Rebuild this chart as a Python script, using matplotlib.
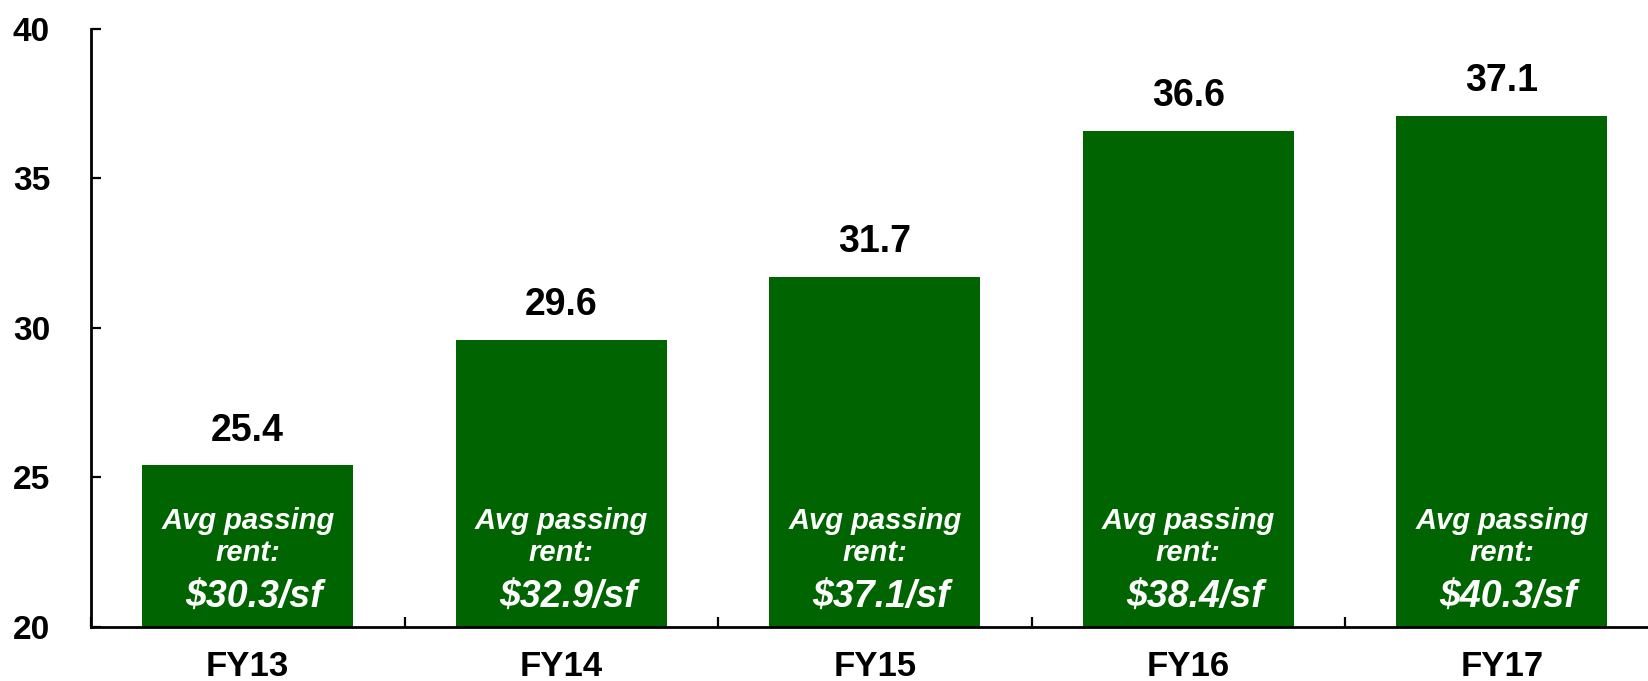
import matplotlib
matplotlib.use("Agg")
import matplotlib.pyplot as plt
import matplotlib.ticker as ticker
import numpy as np

plt.rcParams['font.family'] = ['Liberation Sans', 'DejaVu Sans']
plt.rcParams['font.weight'] = 'bold'

# DATOS
categorias = ["FY13", "FY14", "FY15", "FY16", "FY17"]
valores = [25.4, 29.6, 31.7, 36.6, 37.1]
renta = ["$30.3/sf", "$32.9/sf", "$37.1/sf", "$38.4/sf", "$40.3/sf"]

VERDE = "#006400"

# FIGURA
fig = plt.figure(figsize=(16.48, 6.81), dpi=100)
ax = fig.add_axes([91 / 1648, 54.3 / 681, 5 * 313.5 / 1648, 597.7 / 681])

x = np.arange(len(categorias))
ax.bar(x, valores, width=0.672, color=VERDE, bottom=0, zorder=2)

ax.set_xlim(-0.5, len(categorias) - 0.5)
ax.set_ylim(20, 40)

# Etiquetas de valor encima de cada barra
for xi, v in zip(x, valores):
    ax.annotate(f"{v:.1f}", (xi, v), xytext=(0, 25), textcoords="offset points",
                ha="center", va="center", fontsize=27, fontweight="bold", color="k")

# Texto dentro de cada barra
for xi, r in zip(x, renta):
    ax.text(xi, 23.55, "Avg passing", ha="center", va="center", fontsize=21,
            fontweight="bold", fontstyle="italic", color="white", zorder=3)
    ax.text(xi, 22.45, "rent:", ha="center", va="center", fontsize=21,
            fontweight="bold", fontstyle="italic", color="white", zorder=3)
    ax.text(xi + 0.02, 20.98, r, ha="center", va="center", fontsize=27,
            fontweight="bold", fontstyle="italic", color="white", zorder=3)

# Ejes
for s in ["top", "right"]:
    ax.spines[s].set_visible(False)
for s in ["left", "bottom"]:
    ax.spines[s].set_linewidth(2)
    ax.spines[s].set_zorder(4)

ax.yaxis.set_major_locator(ticker.MultipleLocator(5))
ax.tick_params(axis="y", direction="in", length=7.2, width=1.6, pad=29.5, labelsize=24)

# ticks mayores en los limites de categoria, etiquetas en los centros
ax.set_xticks(np.arange(-0.5, len(categorias) + 0.5, 1.0))
ax.set_xticklabels([])
ax.set_xticks(x, minor=True)
ax.set_xticklabels(categorias, minor=True)
ax.tick_params(axis="x", which="major", direction="in", length=7.2, width=1.6)
ax.tick_params(axis="x", which="minor", length=0, pad=17, labelsize=25)

for lbl in ax.get_yticklabels() + ax.get_xticklabels(minor=True):
    lbl.set_fontweight("bold")

plt.savefig("out.png", dpi=100)
plt.close(fig)
